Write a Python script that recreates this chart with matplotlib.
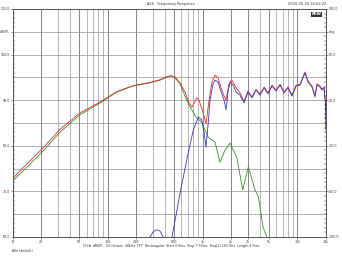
import numpy as np
import matplotlib
matplotlib.use("Agg")
import matplotlib.pyplot as plt
from matplotlib.ticker import FixedLocator, NullFormatter

# ---------------- data ----------------
green_f = [10, 15.2, 21.9, 31.5, 51.2, 83.2, 125.6, 185, 280, 357, 423, 466, 513, 580, 654,
           739, 869, 981, 1144, 1356, 1529, 1727, 1950, 2293, 2653, 3040, 3576, 3875, 4339,
           4747, 5395]
green_db = [72.3, 76.0, 79.3, 83.0, 86.8, 89.4, 91.8, 93.1, 93.8, 94.4, 95.1, 95.3, 94.9, 93.6,
            90.9, 88.5, 86.1, 85.2, 81.9, 80.8, 76.4, 79.1, 80.6, 77.5, 70.3, 75.4, 70.3, 68.8,
            62.2, 60.0, 55.0]

red_f = [10, 15.2, 21.9, 31.5, 51.2, 83.2, 125.6, 185, 280, 357, 423, 466, 513, 580, 654, 721,
         776, 869, 918, 1012, 1088, 1171, 1259, 1356, 1459, 1568, 1687, 1770, 1903, 2046, 2254,
         2483, 2737, 3013, 3323, 3664, 4040, 4450, 4900, 5395, 5945, 6555, 7225, 7960, 8775,
         9665, 10650, 12020, 12920, 14250, 15320, 16080, 17290, 18150, 19060, 19770, 20000]
red_db = [72.9, 76.7, 80.0, 83.6, 87.2, 89.6, 91.9, 93.2, 93.9, 94.5, 95.2, 95.4, 95.1, 93.8,
          91.8, 89.4, 88.5, 90.5, 90.0, 87.4, 84.8, 90.0, 94.0, 95.5, 94.9, 92.7, 90.9, 90.0,
          93.6, 94.4, 92.7, 91.6, 89.7, 92.0, 90.7, 92.4, 91.3, 92.9, 91.6, 93.3, 92.2, 93.5,
          91.8, 92.9, 91.1, 93.3, 93.5, 96.2, 94.2, 93.1, 91.0, 93.6, 93.1, 92.4, 92.9, 89.2, 83.6]

blue_f = [267, 280, 301, 327, 357, 384, 414, 455, 477, 526, 580, 682, 800, 903, 981, 1037, 1088,
          1144, 1200, 1291, 1356, 1459, 1568, 1687, 1770, 1858, 1950, 2098, 2254, 2483, 2737,
          3013, 3323, 3664, 4040, 4450, 4900, 5395, 5945, 6555, 7225, 7960, 8775, 9665, 10650,
          12020, 12920, 14250, 15320, 16080, 17290, 18150, 19060, 19770, 20000]
blue_db = [58.0, 60.0, 61.1, 61.6, 61.3, 60.0, 54.0, 56.0, 60.0, 64.8, 69.6, 76.9, 83.5, 86.3,
           85.7, 83.0, 79.7, 84.6, 90.0, 93.6, 94.4, 94.0, 91.8, 90.0, 87.9, 91.8, 94.0, 93.3,
           91.8, 91.1, 89.4, 91.8, 90.5, 92.2, 91.1, 92.7, 91.4, 93.1, 92.0, 93.3, 91.6, 92.7,
           90.9, 93.1, 93.3, 96.0, 94.0, 92.9, 90.7, 93.3, 92.9, 92.2, 92.7, 89.0, 83.5]

x_ticks = [10, 20, 50, 100, 200, 500, 1000, 2000, 3000, 5000, 10000, 20000]
x_labels = ["10", "20", "50", "100", "200", "500", "1k", "2k", "3k", "5k", "10k", "20k"]
y_ticks = [60, 70, 80, 90, 100, 105, 110]
y_labels = ["60.0", "70.0", "80.0", "90.0", "100.0", "dBSPL", "110.0"]
r_labels = ["-100.0", "-60.0", "-20.0", "20.0", "60.0", "deg", "100.0"]

title = "ALS - Frequency Response"
stamp = "2020-05-20 16:02:22"
info = ("CH A  dBSPL  1/6 Octave  48kHz  FFT  Rectangular  Start 0.0ms  Stop 7.50ms  "
        "FreqLO 201.0Hz  Length 4.0ms")
footer = "Alle (default)"

# ---------------- figure ----------------
fig = plt.figure(figsize=(3.42, 2.56), dpi=100)
ax = fig.add_axes([12.7 / 342, 1 - 237 / 256, (326 - 12.7) / 342, (237 - 9) / 256])
ax.set_xscale("log")
ax.set_xlim(10, 20000)
ax.set_ylim(60, 110)

# grid
minor = []
for dec in [10, 100, 1000, 10000]:
    for m in range(1, 10):
        v = dec * m
        if 10 <= v <= 20000:
            minor.append(v)
for v in minor:
    c = "#666666" if v in x_ticks else "#a0a0a0"
    ax.axvline(v, color=c, lw=0.55, zorder=1)
for v in np.arange(60, 111, 5):
    ax.axhline(v, color="#9a9a9a", lw=0.55, zorder=1)

ax.plot(green_f, green_db, color="#3c8c2c", lw=0.6, zorder=3)
ax.plot(red_f, red_db, color="#e0302c", lw=0.6, zorder=4)
ax.plot(blue_f, blue_db, color="#3838b8", lw=0.6, zorder=5)

ax.xaxis.set_major_locator(FixedLocator(x_ticks))
ax.set_xticklabels(x_labels)
ax.xaxis.set_minor_locator(FixedLocator([]))
ax.xaxis.set_minor_formatter(NullFormatter())
ax.tick_params(axis="x", which="major", labelsize=2.4, length=1.2, width=0.4, pad=0.8,
               colors="#333333")
ax.set_yticks(y_ticks)
ax.set_yticklabels(y_labels)
ax.set_yticks(np.arange(60, 111, 1), minor=True)
ax.tick_params(axis="y", which="major", labelsize=2.3, length=1.2, width=0.4, pad=0.8,
               colors="#333333")
ax.tick_params(axis="y", which="minor", length=1.2, width=0.3, direction="in")

ax2 = ax.twinx()
ax2.set_ylim(60, 110)
ax2.set_yticks(y_ticks)
ax2.set_yticklabels(r_labels)
ax2.set_yticks(np.arange(60, 111, 1), minor=True)
ax2.tick_params(axis="y", which="major", labelsize=2.3, length=1.2, width=0.4, pad=0.8,
                colors="#333333")
ax2.tick_params(axis="y", which="minor", length=1.2, width=0.3, direction="in")

for a in (ax, ax2):
    for s in a.spines.values():
        s.set_color("#555555")
        s.set_linewidth(0.6)

fig.text(0.5, 1 - 4 / 256, title, fontsize=2.6, ha="center", va="center", color="#333333")
fig.text(0.955, 1 - 4 / 256, stamp, fontsize=2.6, ha="right", va="center", color="#333333")
ax.text(0.985, 0.985, "REW", transform=ax.transAxes, fontsize=2.8, fontweight="bold",
        ha="right", va="top", color="white",
        bbox=dict(boxstyle="square,pad=0.15", fc="#333333", ec="none"), zorder=10)
fig.text(0.5, 1 - 246.5 / 256, info, fontsize=2.3, ha="center", va="center", color="#333333")
fig.text(0.035, 1 - 251.5 / 256, footer, fontsize=2.3, ha="left", va="center", color="#333333")

fig.savefig("out.png", dpi=100, facecolor="white")
